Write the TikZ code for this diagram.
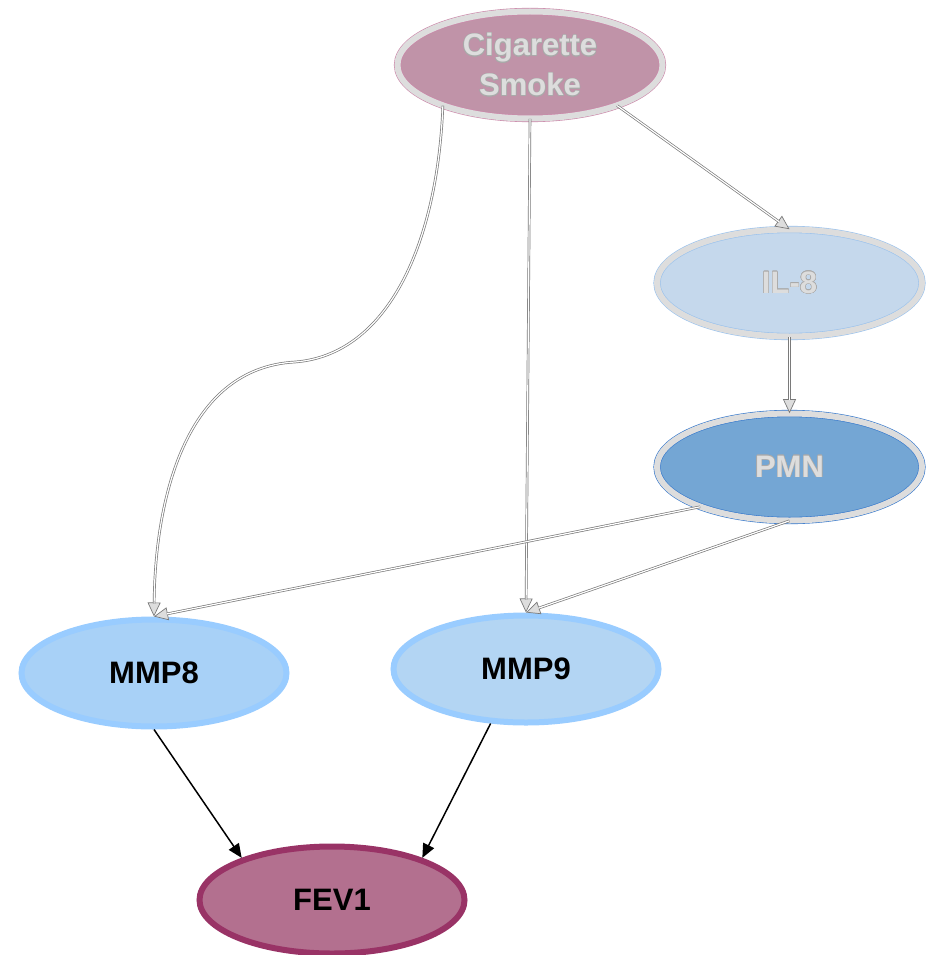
\documentclass[tikz,border=0pt]{standalone}
\usepackage{fontspec}
\setmainfont{Liberation Sans}
\usepackage{contour}
\contourlength{0.5pt}
\contournumber{16}
\usetikzlibrary{shapes.geometric,arrows.meta}
\definecolor{csfill}{HTML}{C093A8}
\definecolor{csline}{HTML}{CC88AA}
\definecolor{ilfill}{HTML}{C5D8EC}
\definecolor{illine}{HTML}{99C2EE}
\definecolor{pmnfill}{HTML}{74A6D4}
\definecolor{pmnline}{HTML}{3377CC}
\definecolor{mmpeight}{HTML}{A8D1F7}
\definecolor{mmpnine}{HTML}{B3D5F3}
\definecolor{mmpline}{HTML}{99CCFF}
\definecolor{fevfill}{HTML}{B3708F}
\definecolor{fevline}{HTML}{993366}
\definecolor{ringgrey}{HTML}{DDDDDD}
\definecolor{edgegrey}{HTML}{7A7A7A}
\definecolor{tipgrey}{HTML}{DDDDDD}
\definecolor{ghosttext}{HTML}{DDDDDD}
\definecolor{ghostedge}{HTML}{AAAAAA}
\newcommand{\ghosttxt}[1]{\contour{ghostedge}{\textcolor{ghosttext}{#1}}}
\begin{document}
\begin{tikzpicture}[x=1pt,y=-1pt,
  every node/.style={font=\bfseries\fontsize{31}{40}\selectfont},
  oval/.style={ellipse, inner sep=0pt, minimum width=265pt, minimum height=107pt},
  ghost/.style={oval, draw=#1, line width=0.6pt, double=ringgrey, double distance=6pt},
  plain/.style={oval, line width=6pt},
  gtip/.style={draw=edgegrey, line width=0.7pt, -{Triangle[length=14pt,width=13pt,fill=tipgrey]}},
  gline/.style={draw=edgegrey, line width=0.7pt, double=white, double distance=1.2pt, shorten >=13pt},
  bedge/.style={draw=black, line width=1.5pt, -{Triangle[length=14pt,width=12pt]}}
]
\fill[white] (0,0) rectangle (926,955);
\useasboundingbox (0,0) rectangle (926,955);

\node[ghost=csline, fill=csfill, align=center] (cs) at (530,65) {\ghosttxt{Cigarette}\\\ghosttxt{Smoke}};
\node[ghost=illine, fill=ilfill] (il8) at (789.5,283) {\ghosttxt{IL-8}};
\node[ghost=pmnline, fill=pmnfill] (pmn) at (789.5,467) {\ghosttxt{PMN}};
\node[plain, draw=mmpline, fill=mmpeight] (mmp8) at (154,673) {\raisebox{-3pt}{MMP8}};
\node[plain, draw=mmpline, fill=mmpnine] (mmp9) at (526,669) {\raisebox{-2pt}{MMP9}};
\node[plain, draw=fevline, fill=fevfill] (fev) at (332,900) {FEV1};

\coordinate (m1) at (295,362);

% grey connectors: tip layer, then double line
\draw[gtip] (cs.205) .. controls (437,250) and (385,355) .. (m1) .. controls (185,368) and (155,500) .. (mmp8.north);
\draw[gline] (cs.205) .. controls (437,250) and (385,355) .. (m1) .. controls (185,368) and (155,500) .. (mmp8.north);
\draw[gtip] (cs.south) -- (mmp9.north);
\draw[gline] (cs.south) -- (mmp9.north);
\draw[gtip] (cs.-25) -- (il8.north);
\draw[gline] (cs.-25) -- (il8.north);
\draw[gtip] (il8.south) -- (pmn.north);
\draw[gline] (il8.south) -- (pmn.north);
\draw[gtip] (pmn.204) -- (mmp8.north);
\draw[gline] (pmn.204) -- (mmp8.north);
\draw[gtip] (pmn.south) -- (mmp9.north);
\draw[gline] (pmn.south) -- (mmp9.north);

% black connectors
\draw[bedge] (mmp8.south) -- (fev.155);
\draw[bedge] (mmp9.237) -- (fev.25);
\end{tikzpicture}
\end{document}
